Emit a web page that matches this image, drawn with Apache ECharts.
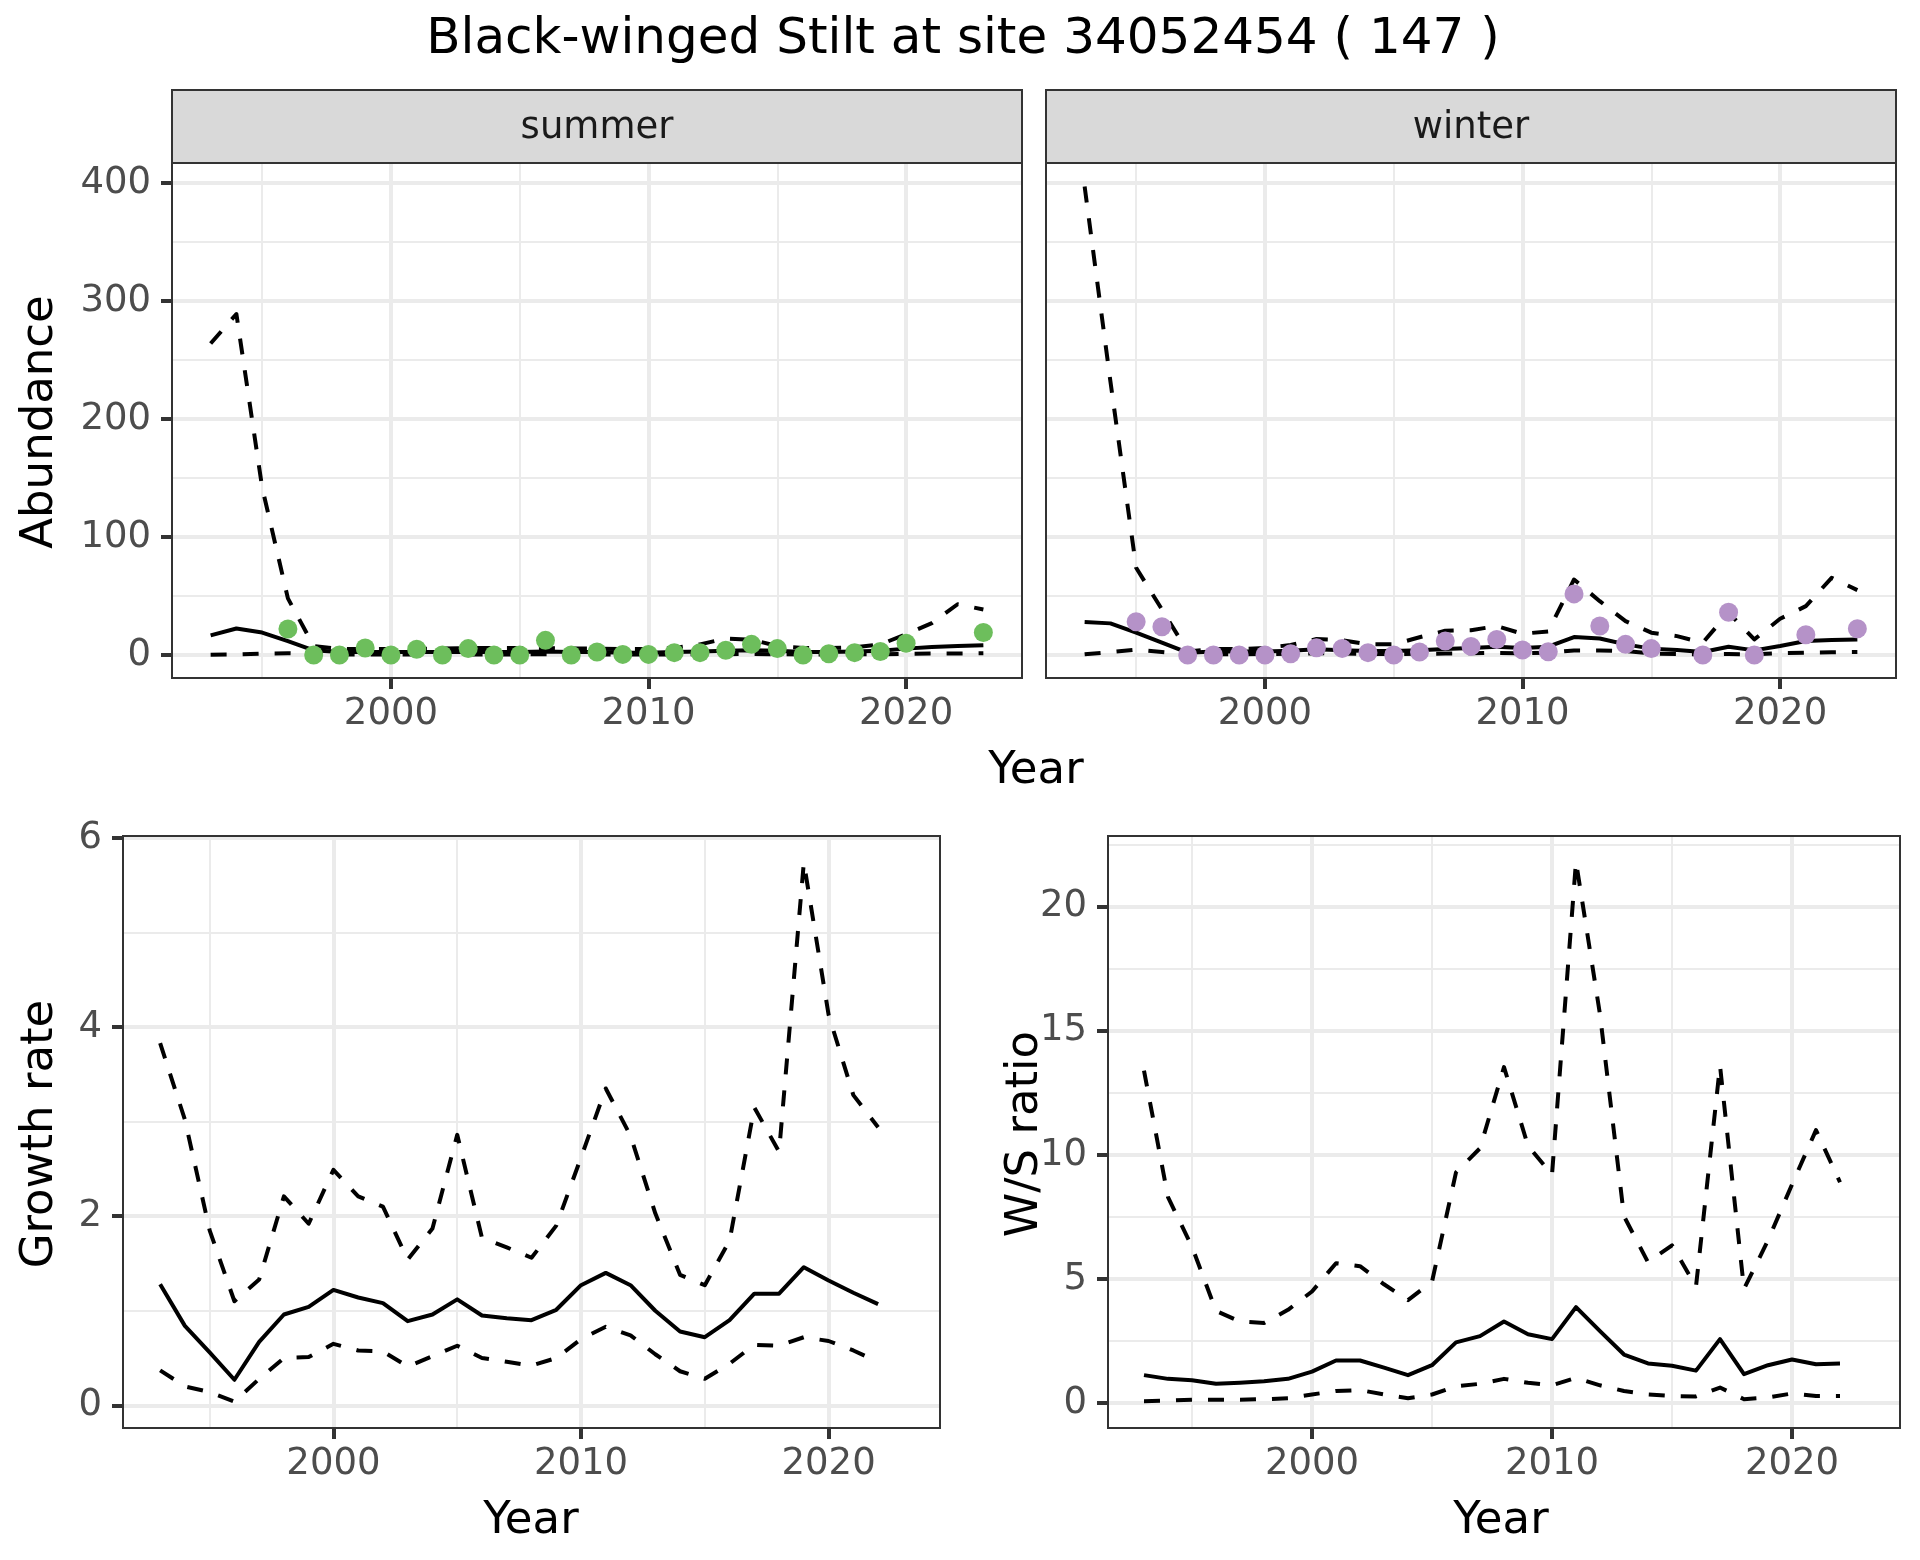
<!DOCTYPE html>
<html><head><meta charset="utf-8">
<script src="https://cdn.jsdelivr.net/npm/echarts@6/dist/echarts.min.js"></script>
<style>html,body{margin:0;padding:0;background:#fff}#c{width:1920px;height:1560px}</style>
</head><body><div id="c"></div>
<script>
// ---------- data ----------
const yearsTop = [1993,1994,1995,1996,1997,1998,1999,2000,2001,2002,2003,2004,2005,2006,2007,2008,2009,2010,2011,2012,2013,2014,2015,2016,2017,2018,2019,2020,2021,2022,2023];
const yearsBottom = [1993,1994,1995,1996,1997,1998,1999,2000,2001,2002,2003,2004,2005,2006,2007,2008,2009,2010,2011,2012,2013,2014,2015,2016,2017,2018,2019,2020,2021,2022];

const summerMean  = [16.6,22.5,19,11.8,4,2.5,2.5,2.5,2.5,2.5,2.5,2.5,2.5,3,2.5,2.5,2,2,2.5,3,3.5,4,3.5,2.5,2.5,3,3.5,5.4,6.8,7.6,8.2];
const summerUpper = [264,289,142,48,7.6,5,5,5,5,5.5,6,6,6,6,5.5,5.5,5,5,6,9,14,13,7.6,6,6,6.5,9,17.5,27,43,38.6];
const summerLower = [0.2,0.5,1.2,1.5,0.8,0.5,0.5,0.5,0.5,0.5,0.5,0.5,0.5,0.6,0.5,0.5,0.4,0.4,0.5,0.6,0.7,0.8,0.7,0.5,0.5,0.6,0.7,1,1.2,1.3,1.4];
const summerObs   = [null,null,null,22,0,0,6,0,4.8,0,5.4,0,0,12.4,0,2.5,0.5,0.5,2,2,4,9,5.4,0,1,2,3,10,null,null,19];

const winterMean  = [27.9,26.8,18.9,10.4,2,3,3,3,3.5,4.8,4,3.4,3.4,4,5,6,7,6,7,15.2,14,9,5.4,4.2,2.5,7,3.9,7.6,11.8,12.7,13.2];
const winterUpper = [397,232,74,38.6,3,5,5,6,8.5,13.5,12.5,9,9,15,20.5,21,24.5,18,20,64,45.6,28.7,18.9,16,10.4,36,13.2,30.7,41.4,65.4,55];
const winterLower = [0.6,2.5,4.5,2.5,0.5,0.6,0.6,0.8,1,1.5,1.2,0.8,0.8,1,1.2,1.5,1.8,1.5,1.8,3.9,3.9,3.4,1.2,0.8,0.5,0.8,0.5,1.5,2,2.3,2.5];
const winterObs   = [null,null,28.2,24,0,0,0,0,1,6.2,5.6,2,0,2.5,11.8,7.3,13.2,4.2,2.8,51.8,24.5,9,5.4,null,0,36.3,0,null,17.2,null,22.3];

const growthMean  = [1.28,0.84,0.56,0.27,0.67,0.96,1.04,1.22,1.14,1.08,0.89,0.96,1.12,0.95,0.92,0.90,1.01,1.27,1.40,1.27,1.00,0.78,0.72,0.90,1.18,1.18,1.46,1.32,1.19,1.07];
const growthUpper = [3.83,3.02,1.85,1.10,1.33,2.21,1.92,2.49,2.21,2.10,1.54,1.87,2.86,1.77,1.67,1.56,1.90,2.62,3.35,2.85,2.03,1.38,1.27,1.74,3.15,2.68,5.74,4.13,3.28,2.94];
const growthLower = [0.37,0.20,0.14,0.04,0.28,0.50,0.51,0.65,0.58,0.57,0.41,0.52,0.63,0.50,0.46,0.42,0.50,0.70,0.83,0.74,0.54,0.36,0.28,0.44,0.64,0.63,0.72,0.68,0.58,0.46];

const wsMean  = [1.13,0.98,0.92,0.78,0.82,0.88,0.98,1.27,1.72,1.72,1.43,1.13,1.53,2.45,2.70,3.29,2.78,2.58,3.87,2.90,1.96,1.60,1.51,1.31,2.58,1.17,1.53,1.76,1.57,1.60];
const wsUpper = [13.4,8.3,6.3,3.72,3.29,3.23,3.76,4.50,5.64,5.52,4.79,4.15,4.89,9.30,10.27,13.54,10.37,9.20,21.82,15.66,7.53,5.68,6.36,4.70,13.60,4.60,6.56,8.81,11.00,8.90];
const wsLower = [0.08,0.10,0.14,0.14,0.14,0.16,0.20,0.35,0.49,0.53,0.35,0.20,0.35,0.68,0.78,0.98,0.82,0.72,1.02,0.72,0.49,0.35,0.29,0.27,0.63,0.16,0.23,0.39,0.29,0.29];

const xMajor = [2000,2010,2020];
const xMinor = [1995,2005,2015];
const yAbMajor = [0,100,200,300,400];
const yAbMinor = [50,150,250,350];
const yGrMajor = [0,2,4,6];
const yGrMinor = [1,3,5];
const yWsMajor = [0,5,10,15,20];
const yWsMinor = [2.5,7.5,12.5,17.5,22.5];

// ---------- chart ----------
const F = 'DejaVu Sans';
const TICK_FS = 37, AXT_FS = 45, TITLE_FS = 50;
const pairs = (xs, ys) => xs.map((x,i)=>[x, ys[i]]).filter(p=>p[1]!=null);

function gridLines(xmaj, xmin, ymaj, ymin){
  const d = [];
  xmin.forEach(v=>d.push({xAxis:v, lineStyle:{color:'#EBEBEB', width:2, type:'solid'}}));
  ymin.forEach(v=>d.push({yAxis:v, lineStyle:{color:'#EBEBEB', width:2, type:'solid'}}));
  xmaj.forEach(v=>d.push({xAxis:v, lineStyle:{color:'#EBEBEB', width:4, type:'solid'}}));
  ymaj.forEach(v=>d.push({yAxis:v, lineStyle:{color:'#EBEBEB', width:4, type:'solid'}}));
  return {silent:true, symbol:['none','none'], z:1, animation:false, label:{show:false}, emphasis:{disabled:true}, data:d};
}

function xAx(gi){
  return {type:'value', gridIndex:gi, min:1991.5, max:2024.5,
    axisLine:{show:false, onZero:false}, splitLine:{show:false},
    axisTick:{show:true, customValues:xMajor, length:11, lineStyle:{color:'#333333', width:4}},
    axisLabel:{show:true, customValues:xMajor, formatter:v=>String(v), color:'#4D4D4D', fontSize:TICK_FS, fontFamily:F, margin:18}};
}
function yAx(gi, min, max, major, show){
  return {type:'value', gridIndex:gi, min:min, max:max,
    axisLine:{show:false, onZero:false}, splitLine:{show:false},
    axisTick:{show:show, customValues:major, length:11, lineStyle:{color:'#333333', width:4}},
    axisLabel:{show:show, customValues:major, formatter:v=>String(v), color:'#4D4D4D', fontSize:TICK_FS, fontFamily:F, margin:21}};
}
function lineS(gi, xs, ys, dashed, ml){
  const s = {type:'line', xAxisIndex:gi, yAxisIndex:gi, data:pairs(xs, ys), showSymbol:false, symbol:'none',
    z:2, silent:true, animation:false,
    lineStyle:{color:'#000000', width:4, type: dashed ? [16,16] : 'solid', cap:'butt', join:'round'}};
  if (ml) s.markLine = ml;
  return s;
}
function ptS(gi, xs, ys, color){
  return {type:'scatter', xAxisIndex:gi, yAxisIndex:gi, data:pairs(xs, ys), symbol:'circle', symbolSize:19,
    z:3, silent:true, animation:false, itemStyle:{color:color, opacity:1}};
}
function txt(x, y, t, fs, fill, rot){
  const o = {type:'text', x:x, y:y, style:{text:t, fontSize:fs, fontFamily:F, fill:fill, align:'center', verticalAlign:'middle'}, z:6};
  if (rot) o.rotation = rot;
  return o;
}

const gridBase = {show:true, backgroundColor:'transparent', borderColor:'#333333', borderWidth:2, z:10, containLabel:false};
const option = {
  backgroundColor:'#ffffff',
  animation:false,
  grid:[
    Object.assign({left:172, top:163, width:850, height:515}, gridBase),
    Object.assign({left:1046, top:163, width:850, height:515}, gridBase),
    Object.assign({left:123, top:836, width:817, height:592}, gridBase),
    Object.assign({left:1108, top:836, width:792, height:592}, gridBase)
  ],
  xAxis:[xAx(0), xAx(1), xAx(2), xAx(3)],
  yAxis:[
    yAx(0, -19.5, 417, yAbMajor, true),
    yAx(1, -19.5, 417, yAbMajor, false),
    yAx(2, -0.24, 6.02, yGrMajor, true),
    yAx(3, -1.0, 22.85, yWsMajor, true)
  ],
  series:[
    lineS(0, yearsTop, summerLower, true, gridLines(xMajor, xMinor, yAbMajor, yAbMinor)),
    lineS(0, yearsTop, summerUpper, true),
    lineS(0, yearsTop, summerMean, false),
    ptS(0, yearsTop, summerObs, '#6DBE5C'),
    lineS(1, yearsTop, winterLower, true, gridLines(xMajor, xMinor, yAbMajor, yAbMinor)),
    lineS(1, yearsTop, winterUpper, true),
    lineS(1, yearsTop, winterMean, false),
    ptS(1, yearsTop, winterObs, '#B592C8'),
    lineS(2, yearsBottom, growthLower, true, gridLines(xMajor, xMinor, yGrMajor, yGrMinor)),
    lineS(2, yearsBottom, growthUpper, true),
    lineS(2, yearsBottom, growthMean, false),
    lineS(3, yearsBottom, wsLower, true, gridLines(xMajor, xMinor, yWsMajor, yWsMinor)),
    lineS(3, yearsBottom, wsUpper, true),
    lineS(3, yearsBottom, wsMean, false)
  ],
  graphic:[
    txt(963, 40, 'Black-winged Stilt at site 34052454 ( 147 )', TITLE_FS, '#000000'),
    {type:'rect', shape:{x:172, y:90, width:850, height:73}, style:{fill:'#D9D9D9', stroke:'#333333', lineWidth:2}, z:5},
    txt(597, 128, 'summer', TICK_FS, '#1A1A1A'),
    {type:'rect', shape:{x:1046, y:90, width:850, height:73}, style:{fill:'#D9D9D9', stroke:'#333333', lineWidth:2}, z:5},
    txt(1471, 128, 'winter', TICK_FS, '#1A1A1A'),
    txt(1036, 771, 'Year', AXT_FS, '#000000'),
    txt(531, 1521, 'Year', AXT_FS, '#000000'),
    txt(1501, 1521, 'Year', AXT_FS, '#000000'),
    txt(40, 422, 'Abundance', AXT_FS, '#000000', Math.PI/2),
    txt(40, 1134, 'Growth rate', AXT_FS, '#000000', Math.PI/2),
    txt(1025, 1134, 'W/S ratio', AXT_FS, '#000000', Math.PI/2)
  ]
};
const chart = echarts.init(document.getElementById('c'), null, {renderer:'canvas', width:1920, height:1560});
chart.setOption(option);
</script>
</body></html>
